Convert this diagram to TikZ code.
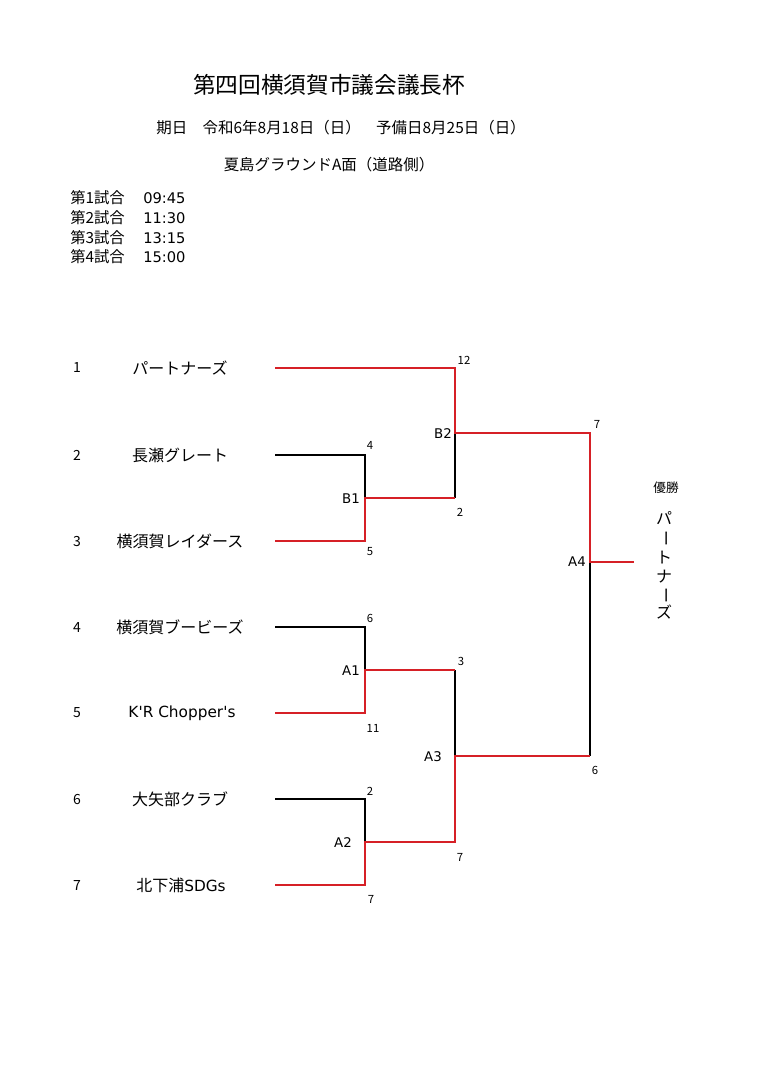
\documentclass[tikz,border=0pt]{standalone}
\usepackage{fontspec}
\setmainfont{Noto Sans CJK JP}
\newfontfamily\latinf{DejaVu Sans}
\definecolor{wred}{RGB}{214,32,38}
\begin{document}
\begin{tikzpicture}[x=0.75pt,y=-0.75pt,
  win/.style={draw=wred, line width=1.5pt},
  lose/.style={draw=black, line width=1.5pt},
  num/.style={font=\fontsize{8.5}{9}\selectfont, inner sep=0pt},
  mlab/.style={font=\latinf\fontsize{10}{11}\selectfont, inner sep=0pt, anchor=east},
  team/.style={font=\fontsize{12}{14}\selectfont, inner sep=0pt},
  tno/.style={font=\fontsize{10.5}{12}\selectfont, inner sep=0pt},
  sched/.style={font=\fontsize{11.5}{13}\selectfont, inner sep=0pt, anchor=west},
  vch/.style={font=\fontsize{12}{14}\selectfont, inner sep=0pt},
]
\useasboundingbox[fill=white] (0,0) rectangle (768,1086);

% header
\node[font=\fontsize{17}{20}\selectfont, inner sep=0pt] (title) at (329,85) {第四回横須賀市議会議長杯};
\node[font=\fontsize{11.6}{14}\selectfont, inner sep=0pt] (date) at (341,128) {期日　令和6年8月18日（日）　予備日8月25日（日）};
\node[font=\fontsize{11.6}{14}\selectfont, inner sep=0pt] (ground) at (329,165) {夏島グラウンドA面（道路側）};
\foreach \k/\y/\t in {1/198/09:45,2/218/11:30,3/238/13:15,4/257/15:00}{
  \node[sched] (s\k) at (70,\y) {第\k 試合};
  \node[sched, font=\latinf\fontsize{11}{13}\selectfont] (tt\k) at (143,\y) {\t};
}

% teams
\foreach \i/\y/\n in {1/368/パートナーズ,2/455/長瀬グレート,3/541/横須賀レイダース,4/627/横須賀ブービーズ,6/799/大矢部クラブ}{
  \node[tno] (no\i) at (77,\y) {\i};
  \node[team] (tm\i) at (180,\y) {\n};
  \coordinate (t\i) at (275,\y);
}
\node[tno] (no5) at (77,713) {5};
\node[team, font=\latinf\fontsize{11.5}{14}\selectfont] (tm5) at (182,713) {K'R Chopper's};
\coordinate (t5) at (275,713);
\node[tno] (no7) at (77,885) {7};
\node[team] (tm7) at (181,885) {北下浦{\latinf\fontsize{11.5}{14}\selectfont SDGs}};
\coordinate (t7) at (275,885);

% bracket points
\coordinate (c2) at (365,455);
\coordinate (c3) at (365,541);
\coordinate (b1) at (365,498);
\coordinate (c4) at (365,627);
\coordinate (c5) at (365,713);
\coordinate (a1) at (365,670);
\coordinate (c6) at (365,799);
\coordinate (c7) at (365,885);
\coordinate (a2) at (365,842);
\coordinate (c1) at (455,368);
\coordinate (b2) at (455,433);
\coordinate (b1e) at (455,498);
\coordinate (a1e) at (455,670);
\coordinate (a3) at (455,756);
\coordinate (a2e) at (455,842);
\coordinate (b2e) at (590,433);
\coordinate (a4) at (590,562);
\coordinate (a3e) at (590,756);
\coordinate (champ) at (634,562);

% losing lines
\draw[lose] (t2) -- (c2) -- (b1);
\draw[lose] (t4) -- (c4) -- (a1);
\draw[lose] (t6) -- (c6) -- (a2);
\draw[lose] (b2) -- (b1e);
\draw[lose] (a1e) -- (a3);
\draw[lose] (a4) -- (a3e);

% winning lines
\draw[win] (t1) -- (c1) -- (b2) -- (b2e) -- (a4) -- (champ);
\draw[win] (t3) -- (c3) -- (b1) -- (b1e);
\draw[win] (t5) -- (c5) -- (a1) -- (a1e);
\draw[win] (t7) -- (c7) -- (a2) -- (a2e) -- (a3) -- (a3e);

% scores
\node[num] (n12) at (464,360) {12};
\node[num] (n4) at (370,445) {4};
\node[num] (n5) at (370,552) {5};
\node[num] (n2b) at (460,512) {2};
\node[num] (n7a) at (597,424) {7};
\node[num] (n6a) at (370,618) {6};
\node[num] (n11) at (373,728) {11};
\node[num] (n3) at (461,661) {3};
\node[num] (n2a) at (370,791) {2};
\node[num] (n7b) at (460,857) {7};
\node[num] (n7c) at (371,899) {7};
\node[num] (n6b) at (595,770) {6};

% match labels
\node[mlab] (lb1) at (360,499) {B1};
\node[mlab] (lb2) at (452,434) {B2};
\node[mlab] (la4) at (586,562) {A4};
\node[mlab] (la1) at (360,671) {A1};
\node[mlab] (la3) at (442,757) {A3};
\node[mlab] (la2) at (352,843) {A2};

% champion
\node[font=\fontsize{9.5}{11}\selectfont, inner sep=0pt] (yusho) at (666,488) {優勝};
\node[vch] (v1) at (664,518) {パ};
\node[vch, rotate=-90] (v2) at (664,538) {ー};
\node[vch] (v3) at (664,558) {ト};
\node[vch] (v4) at (664,577) {ナ};
\node[vch, rotate=-90] (v5) at (664,595) {ー};
\node[vch] (v6) at (664,612) {ズ};
\end{tikzpicture}
\end{document}
